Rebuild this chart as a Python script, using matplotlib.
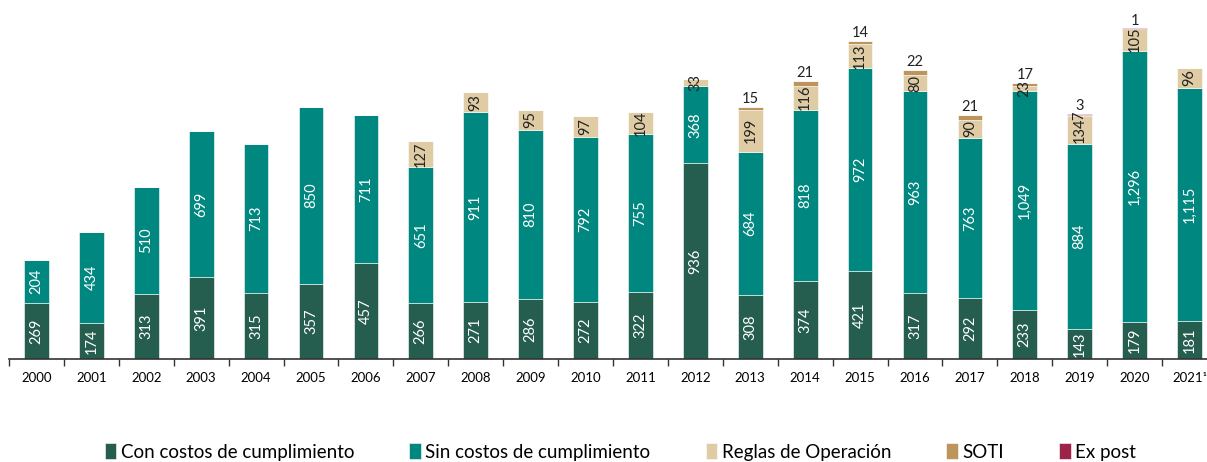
import matplotlib
matplotlib.use("Agg")
import matplotlib.pyplot as plt
import numpy as np

plt.rcParams['font.family'] = ['Lato', 'DejaVu Sans']

# ── data ──────────────────────────────────────────────────────────────────
years = [str(y) for y in range(2000, 2021)] + ["2021¹"]
con_costos = [269, 174, 313, 391, 315, 357, 457, 266, 271, 286, 272, 322,
              936, 308, 374, 421, 317, 292, 233, 143, 179, 181]
sin_costos = [204, 434, 510, 699, 713, 850, 711, 651, 911, 810, 792, 755,
              368, 684, 818, 972, 963, 763, 1049, 884, 1296, 1115]
reglas = [0, 0, 0, 0, 0, 0, 0, 127, 93, 95, 97, 104,
          33, 199, 116, 113, 80, 90, 23, 134, 105, 96]
soti = [0, 0, 0, 0, 0, 0, 0, 0, 0, 0, 0, 0,
        0, 15, 21, 14, 22, 21, 17, 7, 0, 0]
ex_post = [0, 0, 0, 0, 0, 0, 0, 0, 0, 0, 0, 0,
           0, 0, 0, 0, 0, 0, 0, 3, 1, 0]

series = [
    ("Con costos de cumplimiento", con_costos, "#255d4e"),
    ("Sin costos de cumplimiento", sin_costos, "#00877f"),
    ("Reglas de Operación", reglas, "#dfcba4"),
    ("SOTI", soti, "#bc955c"),
    ("Ex post", ex_post, "#9d2449"),
]

# ── figure ────────────────────────────────────────────────────────────────
fig = plt.figure(figsize=(12.07, 4.62), dpi=100)
ax = fig.add_axes([9 / 1207, 103 / 462, 1208 / 1207, 345 / 462])

x = np.arange(len(years))
w = 0.45
bottom = np.zeros(len(years))
for name, vals, col in series:
    vals = np.array(vals, dtype=float)
    ax.bar(x, vals, w, bottom=bottom, color=col, label=name,
           edgecolor="white", linewidth=0.4)
    bottom += vals

# labels
cb = np.array(con_costos, float)
sb = cb + np.array(sin_costos)
rb = sb + np.array(reglas)
tb = rb + np.array(soti)
top = tb + np.array(ex_post)
for i in range(len(years)):
    ax.text(x[i], cb[i] / 2, f"{con_costos[i]:,}", rotation=90, ha="center",
            va="center", color="white", fontsize=10.5)
    ax.text(x[i], cb[i] + sin_costos[i] / 2, f"{sin_costos[i]:,}", rotation=90,
            ha="center", va="center", color="white", fontsize=10.5)
    if reglas[i]:
        ax.text(x[i], sb[i] + reglas[i] / 2, f"{reglas[i]}", rotation=90,
                ha="center", va="center", color="#222222", fontsize=10.5)
    if soti[i]:
        if ex_post[i]:
            ax.text(x[i], rb[i] + soti[i] / 2, f"{soti[i]}", rotation=90,
                    ha="center", va="center", color="#222222", fontsize=10.5)
        else:
            ax.text(x[i], tb[i] + 4, f"{soti[i]}", ha="center", va="bottom",
                    color="#222222", fontsize=10.5)
    if ex_post[i]:
        ax.text(x[i], top[i] + 4, f"{ex_post[i]}", ha="center", va="bottom",
                color="#222222", fontsize=10.5)

ax.set_xlim(-0.5, len(years) - 0.5)
ax.set_ylim(0, 1650)
for s in ["top", "right", "left"]:
    ax.spines[s].set_visible(False)
ax.spines["bottom"].set_color("#333333")
ax.spines["bottom"].set_linewidth(1.2)
ax.set_yticks([])
ax.set_xticks(x)
ax.set_xticklabels(years, fontsize=9.5)
ax.tick_params(axis="x", length=0, pad=9)
ax.set_xticks(np.arange(len(years) + 1) - 0.5, minor=True)
ax.tick_params(axis="x", which="minor", length=5, width=1, color="#333333")

ax.legend(loc="lower center", bbox_to_anchor=(0.514, 0.003), bbox_transform=fig.transFigure,
          ncol=5, frameon=False, fontsize=13.5, handlelength=0.6, handleheight=0.9,
          handletextpad=0.25, columnspacing=2.95, borderaxespad=0, borderpad=0)

fig.savefig("out.png", dpi=100)
